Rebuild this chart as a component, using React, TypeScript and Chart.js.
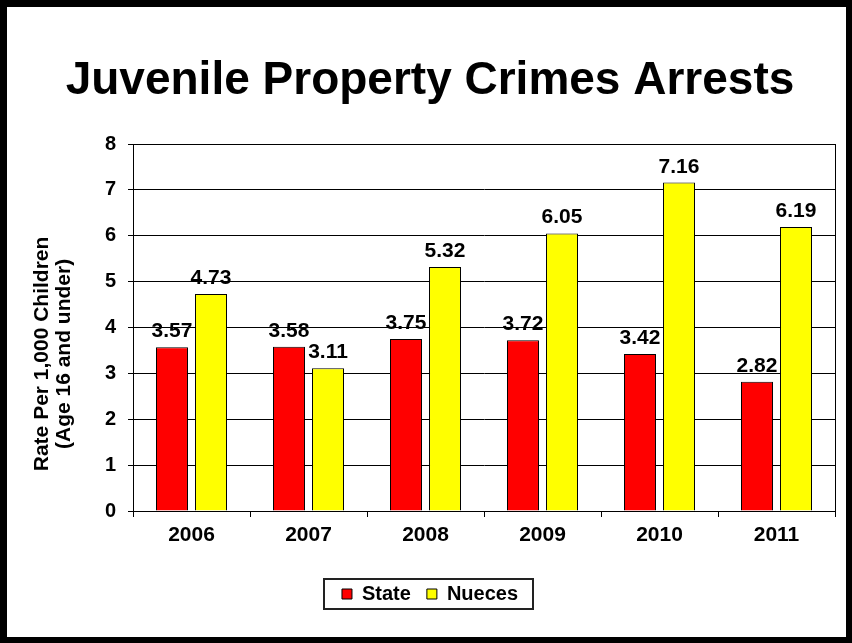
import React, { useEffect, useRef } from "react";
import { Chart, registerables } from "chart.js";

Chart.register(...registerables);

const categories = ["2006", "2007", "2008", "2009", "2010", "2011"];
const stateValues = [3.57, 3.58, 3.75, 3.72, 3.42, 2.82];
const nuecesValues = [4.73, 3.11, 5.32, 6.05, 7.16, 6.19];
const yTitleLines = ["Rate Per 1,000 Children", "(Age 16 and under)"];
const chartTitle = "Juvenile Property Crimes Arrests";

const FONT = "'Liberation Sans', Arial, Helvetica, sans-serif";

const framePlugin = {
  id: "frame",
  beforeDatasetsDraw(chart: any) {
    const { ctx, chartArea } = chart;
    ctx.save();
    ctx.strokeStyle = "#000";
    ctx.lineWidth = 1;
    ctx.strokeRect(
      Math.round(chartArea.left) + 0.5,
      Math.round(chartArea.top) + 0.5,
      Math.round(chartArea.right - chartArea.left),
      Math.round(chartArea.bottom - chartArea.top)
    );
    ctx.restore();
  },
};

const dataLabelPlugin = {
  id: "dataLabels",
  afterDatasetsDraw(chart: any) {
    const { ctx } = chart;
    ctx.save();
    ctx.font = `bold 21px ${FONT}`;
    ctx.fillStyle = "#000";
    ctx.textAlign = "center";
    ctx.textBaseline = "alphabetic";
    chart.data.datasets.forEach((ds: any, di: number) => {
      const meta = chart.getDatasetMeta(di);
      meta.data.forEach((bar: any, i: number) => {
        ctx.fillText(Number(ds.data[i]).toFixed(2), bar.x, bar.y - 10);
      });
    });
    ctx.restore();
  },
};

const legendBoxPlugin = {
  id: "legendBox",
  afterDraw(chart: any) {
    const legend = chart.legend;
    if (!legend || !legend.legendHitBoxes || !legend.legendHitBoxes.length) return;
    const hb = legend.legendHitBoxes;
    const first = hb[0];
    const last = hb[hb.length - 1];
    const x1 = Math.round(first.left - 18);
    const x2 = Math.round(last.left + last.width + 15);
    const y1 = Math.round(first.top - 5);
    const y2 = Math.round(first.top + first.height + 5);
    const { ctx } = chart;
    ctx.save();
    ctx.strokeStyle = "#222";
    ctx.lineWidth = 2;
    ctx.strokeRect(x1, y1, x2 - x1, y2 - y1);
    ctx.restore();
  },
};

const yTitlePlugin = {
  id: "yTitle",
  afterDraw(chart: any) {
    const { ctx, chartArea } = chart;
    const cy = chartArea.top + (chartArea.bottom - chartArea.top) * 0.572;
    const x0 = chartArea.left - 91;
    ctx.save();
    ctx.font = `bold 21px ${FONT}`;
    ctx.fillStyle = "#000";
    ctx.textAlign = "center";
    ctx.textBaseline = "middle";
    yTitleLines.forEach((line, i) => {
      ctx.save();
      ctx.translate(x0 + i * 22.5, cy);
      ctx.rotate(-Math.PI / 2);
      ctx.fillText(line, 0, 0);
      ctx.restore();
    });
    ctx.restore();
  },
};

export default function App() {
  const canvasRef = useRef<HTMLCanvasElement | null>(null);

  useEffect(() => {
    if (!canvasRef.current) return;
    const chart = new Chart(canvasRef.current, {
      type: "bar",
      data: {
        labels: categories,
        datasets: [
          {
            label: "State",
            data: stateValues,
            backgroundColor: "#FF0000",
            borderColor: "#000000",
            borderWidth: 1,
            categoryPercentage: 0.667,
            barPercentage: 0.82,
          },
          {
            label: "Nueces",
            data: nuecesValues,
            backgroundColor: "#FFFF00",
            borderColor: "#000000",
            borderWidth: 1,
            categoryPercentage: 0.667,
            barPercentage: 0.82,
          },
        ],
      },
      options: {
        responsive: false,
        animation: false,
        devicePixelRatio: 1,
        layout: { padding: { left: 18, right: 11, top: 0, bottom: 23 } },
        plugins: {
          title: {
            display: true,
            text: chartTitle,
            color: "#000",
            font: { family: FONT, size: 46, weight: "bold", lineHeight: 1.2 },
            padding: { top: 46.4, bottom: 35.4 },
          },
          legend: {
            display: true,
            position: "bottom",
            labels: {
              color: "#000",
              boxWidth: 10,
              boxHeight: 10,
              padding: 16,
              font: { family: FONT, size: 20, weight: "bold" },
            },
          },
          tooltip: { enabled: false },
        },
        scales: {
          x: {
            grid: {
              display: true,
              drawOnChartArea: false,
              drawTicks: true,
              tickLength: 6,
              color: "#000",
              offset: true,
            },
            border: { display: true, color: "#000", width: 1 },
            ticks: {
              color: "#000",
              padding: 6,
              font: { family: FONT, size: 21, weight: "bold" },
            },
            afterFit(scale: any) {
              scale.height = 57;
            },
          },
          y: {
            min: 0,
            max: 8,
            ticks: {
              stepSize: 1,
              color: "#000",
              padding: 12,
              font: { family: FONT, size: 20, weight: "bold" },
            },
            grid: {
              color: "#000",
              lineWidth: 1,
              drawTicks: true,
              tickLength: 5,
            },
            border: { display: true, color: "#000", width: 1 },
            afterFit(scale: any) {
              scale.width = 108;
            },
          },
        },
      },
      plugins: [framePlugin, dataLabelPlugin, legendBoxPlugin, yTitlePlugin],
    } as any);
    return () => chart.destroy();
  }, []);

  return (
    <div
      style={{
        position: "absolute",
        left: 0,
        top: 0,
        width: 852,
        height: 643,
        boxSizing: "border-box",
        borderStyle: "solid",
        borderColor: "#000",
        borderTopWidth: 7,
        borderLeftWidth: 7,
        borderRightWidth: 6,
        borderBottomWidth: 6,
        background: "#fff",
      }}
    >
      <canvas ref={canvasRef} width={839} height={630} style={{ display: "block", width: 839, height: 630 }} />
    </div>
  );
}
